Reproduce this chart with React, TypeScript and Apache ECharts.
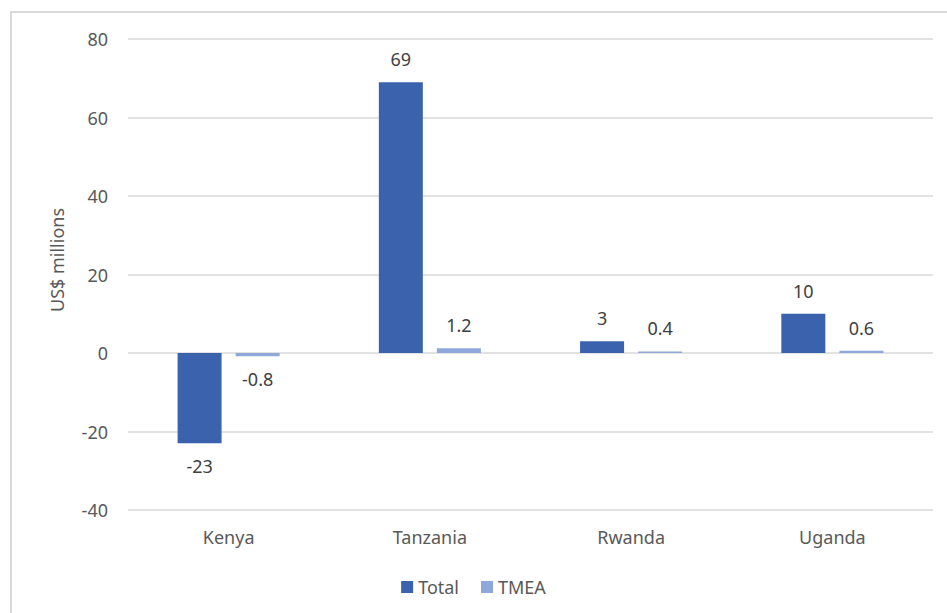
import React, { useEffect, useRef } from "react";
import * as echarts from "echarts";

const categories = ["Kenya", "Tanzania", "Rwanda", "Uganda"];
const totalValues = [-23, 69, 3, 10];
const tmeaValues = [-0.8, 1.2, 0.4, 0.6];
const seriesNames = ["Total", "TMEA"];
const yAxisTitle = "US$ millions";

const FONT = "'Noto Sans', 'Open Sans', sans-serif";

function withLabels(values: number[]) {
  return values.map((v) => ({
    value: v,
    label: { position: v >= 0 ? "top" : "bottom" },
  }));
}

export default function App() {
  const ref = useRef<HTMLDivElement>(null);
  useEffect(() => {
    document.body.style.margin = "0";
    if (!ref.current) return;
    const chart = echarts.init(ref.current, undefined, { renderer: "svg" });
    const labelStyle = {
      show: true,
      fontSize: 18,
      color: "#404040",
      fontFamily: FONT,
      distance: 14,
    };
    chart.setOption({
      animation: false,
      backgroundColor: "#ffffff",
      textStyle: { fontFamily: FONT },
      grid: { left: 128, right: 14, top: 39, bottom: 103 },
      legend: {
        data: seriesNames,
        bottom: 12,
        left: "center",
        icon: "rect",
        itemWidth: 12,
        itemHeight: 12,
        itemGap: 22,
        textStyle: { fontSize: 18, color: "#595959", fontFamily: FONT },
      },
      graphic: [
        {
          type: "rect",
          shape: { x: 11, y: 12, width: 1000, height: 700 },
          style: { fill: "none", stroke: "#d9d9d9", lineWidth: 2 },
          silent: true,
        },
        {
          type: "text",
          x: 57,
          y: 260,
          rotation: Math.PI / 2,
          style: {
            text: yAxisTitle,
            fontSize: 18,
            fill: "#595959",
            fontFamily: FONT,
            align: "center",
            verticalAlign: "middle",
          },
        },
      ],
      xAxis: {
        type: "category",
        data: categories,
        axisLine: { show: false },
        axisTick: { show: false },
        axisLabel: { fontSize: 18, color: "#595959", margin: 18, fontFamily: FONT },
      },
      yAxis: {
        type: "value",
        min: -40,
        max: 80,
        interval: 20,
        axisLine: { show: false },
        axisTick: { show: false },
        axisLabel: { fontSize: 18, color: "#595959", margin: 20, fontFamily: FONT },
        splitLine: { lineStyle: { color: "#d9d9d9", width: 1.5 } },
      },
      series: [
        {
          name: seriesNames[0],
          type: "bar",
          data: withLabels(totalValues),
          barWidth: 44,
          barGap: "32%",
          itemStyle: { color: "#3B62AD" },
          label: labelStyle,
        },
        {
          name: seriesNames[1],
          type: "bar",
          data: withLabels(tmeaValues),
          barWidth: 44,
          itemStyle: { color: "#8EA8DB" },
          label: labelStyle,
        },
      ],
    });
    return () => chart.dispose();
  }, []);
  return <div ref={ref} style={{ width: 947, height: 613 }} />;
}
